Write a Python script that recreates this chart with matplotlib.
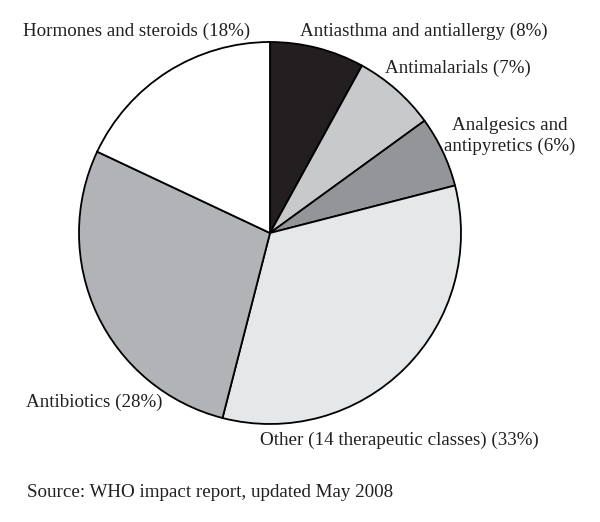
import matplotlib
matplotlib.use("Agg")
import matplotlib.pyplot as plt

# Share of therapeutic classes (clockwise from 12 o'clock)
classes = ["Antiasthma and antiallergy", "Antimalarials", "Analgesics and antipyretics",
           "Other (14 therapeutic classes)", "Antibiotics", "Hormones and steroids"]
shares = [8, 7, 6, 33, 28, 18]
colors = ["#231f20", "#c8c9cb", "#939598", "#e6e7e8", "#b1b3b6", "#ffffff"]
source = "Source: WHO impact report, updated May 2008"

W, H = 600, 522
plt.rcParams["font.family"] = ["Liberation Serif", "DejaVu Serif"]

fig = plt.figure(figsize=(W / 100, H / 100), dpi=100)
ax = fig.add_axes([0, 0, 1, 1])

ax.pie(shares, colors=colors, startangle=90, counterclock=False,
       center=(270, H - 233), radius=191,
       wedgeprops=dict(edgecolor="black", linewidth=1.3))
ax.set_xlim(0, W)
ax.set_ylim(0, H)
ax.set_aspect("equal")
ax.axis("off")

fs = 13.7
def label(x, y, s, ha="left"):
    ax.text(x, H - y, s, ha=ha, va="baseline", fontsize=fs, color="#231f20",
            multialignment="center", linespacing=1.3)

label(250, 36, "Hormones and steroids (18%)", ha="right")
label(300, 36, "Antiasthma and antiallergy (8%)")
label(385, 73, "Antimalarials (7%)")
label(510, 151, "Analgesics and\nantipyretics (6%)", ha="center")
label(26, 407, "Antibiotics (28%)")
label(260, 445, "Other (14 therapeutic classes) (33%)")
label(27, 497, source)

fig.savefig("out.png", dpi=100)
